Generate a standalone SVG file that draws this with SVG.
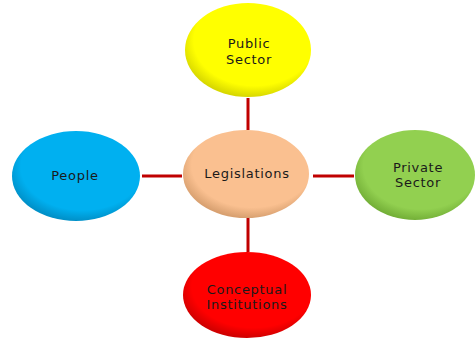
<svg xmlns="http://www.w3.org/2000/svg" width="476" height="340" viewBox="0 0 476 340">
<style>
.lbl{font-family:"DejaVu Sans","Verdana",sans-serif;font-size:13px;fill:#1a1a1a;text-anchor:middle;letter-spacing:0.7px}
.conn{stroke:#c00000;stroke-width:3;fill:none}
</style>
<defs>
<radialGradient id="gY" cx="0.55" cy="0.4" r="0.6"><stop offset="0.8" stop-color="#ffff00"/><stop offset="1" stop-color="#d8d800"/></radialGradient>
<radialGradient id="gB" cx="0.55" cy="0.4" r="0.6"><stop offset="0.8" stop-color="#00b0f0"/><stop offset="1" stop-color="#0090c8"/></radialGradient>
<radialGradient id="gP" cx="0.55" cy="0.4" r="0.6"><stop offset="0.8" stop-color="#fac090"/><stop offset="1" stop-color="#d8a070"/></radialGradient>
<radialGradient id="gG" cx="0.55" cy="0.4" r="0.6"><stop offset="0.8" stop-color="#92d050"/><stop offset="1" stop-color="#74b038"/></radialGradient>
<radialGradient id="gR" cx="0.55" cy="0.4" r="0.6"><stop offset="0.8" stop-color="#ff0000"/><stop offset="1" stop-color="#d00000"/></radialGradient>
</defs>
<rect width="476" height="340" fill="#ffffff"/>
<g id="connectors">
<line class="conn" x1="248" y1="98" x2="248" y2="130"/>
<line class="conn" x1="248" y1="218" x2="248" y2="252"/>
<line class="conn" x1="142" y1="176" x2="182" y2="176"/>
<line class="conn" x1="313" y1="176" x2="354" y2="176"/>
</g>
<g id="public-sector">
<ellipse cx="248" cy="50" rx="63" ry="47" fill="url(#gY)"/>
<text class="lbl" x="249" y="48">Public</text>
<text class="lbl" x="249" y="64">Sector</text>
</g>
<g id="people">
<ellipse cx="76" cy="176" rx="64" ry="45" fill="url(#gB)"/>
<text class="lbl" x="75" y="180">People</text>
</g>
<g id="legislations">
<ellipse cx="246" cy="174" rx="63" ry="44" fill="url(#gP)"/>
<text class="lbl" x="247" y="178">Legislations</text>
</g>
<g id="private-sector">
<ellipse cx="415" cy="175" rx="60" ry="45" fill="url(#gG)"/>
<text class="lbl" x="418" y="172">Private</text>
<text class="lbl" x="418" y="187">Sector</text>
</g>
<g id="conceptual-institutions">
<ellipse cx="247" cy="295" rx="64" ry="43" fill="url(#gR)"/>
<text class="lbl" x="247" y="294">Conceptual</text>
<text class="lbl" x="247" y="309">Institutions</text>
</g>
</svg>
